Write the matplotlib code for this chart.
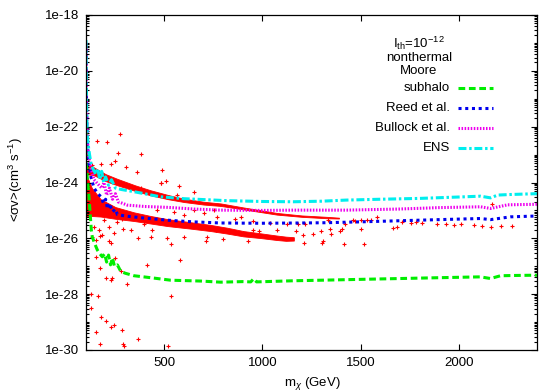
import numpy as np
import matplotlib
matplotlib.use("Agg")
import matplotlib.pyplot as plt
from matplotlib.ticker import FixedLocator, LogLocator, NullFormatter

plt.rcParams["font.family"] = ["Liberation Sans", "DejaVu Sans"]
plt.rcParams["mathtext.fontset"] = "custom"
plt.rcParams["mathtext.rm"] = "Liberation Sans"
plt.rcParams["mathtext.it"] = "Liberation Sans:italic"

# curves: mass in GeV, log10 of <sigma v>
sub_x = [100, 101, 103, 106, 110, 115, 121, 127, 132, 145, 158, 170, 183, 195, 205, 215, 225,
         235, 245, 260, 277, 300, 345, 430, 532, 685, 787, 900, 940, 955, 970, 1157, 1300,
         1498, 1700, 1900, 2112, 2163, 2214, 2290, 2400]
sub_log = [-21.8, -22.6, -23.3, -23.8, -24.1, -24.5, -25.1, -25.7, -25.95, -26.2, -26.42, -26.55,
           -26.66, -26.55, -26.85, -26.6, -26.95, -26.7, -27.0, -26.95, -27.18, -27.25, -27.34,
           -27.41, -27.5, -27.53, -27.57, -27.55, -27.56, -27.45, -27.56, -27.52, -27.5, -27.47,
           -27.44, -27.41, -27.38, -27.44, -27.34, -27.33, -27.32]

reed_x = [100, 101, 103, 106, 110, 115, 125, 141, 160, 175, 190, 200, 210, 220, 235, 250, 260,
          300, 391, 515, 646, 787, 988, 1200, 1329, 1498, 1700, 1900, 2112, 2163, 2265, 2400]
reed_log = [-19.2, -20.3, -21.5, -22.4, -22.9, -23.3, -23.8, -24.2, -24.4, -24.5, -24.75, -24.6,
            -24.95, -24.75, -25.05, -24.95, -25.15, -25.2, -25.27, -25.35, -25.41, -25.45, -25.46,
            -25.45, -25.44, -25.41, -25.37, -25.33, -25.29, -25.33, -25.23, -25.2]

bull_x = [100, 101, 103, 106, 110, 120, 130, 141, 160, 180, 192, 205, 220, 235, 250, 265, 277,
          311, 400, 515, 650, 787, 1000, 1157, 1426, 1700, 1900, 2112, 2163, 2250, 2400]
bull_log = [-19.0, -20.0, -21.2, -22.2, -22.9, -23.3, -23.6, -23.9, -24.05, -24.2, -24.0, -24.45,
            -24.2, -24.6, -24.4, -24.7, -24.72, -24.81, -24.86, -24.89, -24.95, -24.99, -25.0,
            -24.99, -24.99, -24.95, -24.9, -24.87, -24.93, -24.8, -24.78]

ens_x = [100, 101, 102, 104, 106, 110, 118, 125, 135, 150, 160, 170, 180, 190, 200, 215, 230,
         250, 280, 345, 478, 600, 818, 1000, 1157, 1300, 1426, 1600, 1800, 2000, 2112, 2163,
         2200, 2265, 2400]
ens_log = [-18.9, -19.8, -20.6, -21.6, -22.2, -22.6, -23.0, -23.3, -23.5, -23.7, -23.5, -23.9,
           -23.6, -24.0, -23.8, -24.1, -23.9, -24.2, -24.25, -24.33, -24.51, -24.58, -24.65,
           -24.68, -24.69, -24.67, -24.63, -24.6, -24.57, -24.52, -24.49, -24.55, -24.45, -24.43,
           -24.4]

# dense red scan bands (edges, log10)
upper_x = [100, 120, 141, 200, 260, 350, 430, 520, 600, 700, 787, 900, 1073, 1200, 1328, 1390]
upper_top = [-23.3, -23.38, -23.46, -23.7, -23.87, -24.1, -24.28, -24.45, -24.58, -24.69,
             -24.75, -24.89, -25.09, -25.18, -25.23, -25.26]
upper_bot = [-23.7, -23.72, -23.74, -23.95, -24.1, -24.3, -24.46, -24.6, -24.7, -24.79,
             -24.84, -24.96, -25.15, -25.23, -25.28, -25.29]

lower_x = [100, 130, 175, 250, 345, 430, 515, 630, 736, 820, 903, 990, 1073, 1120, 1160]
lower_top = [-23.7, -24.2, -24.6, -24.88, -25.07, -25.2, -25.31, -25.42, -25.52, -25.62, -25.74,
             -25.82, -25.9, -25.94, -25.96]
lower_bot = [-25.2, -25.2, -25.22, -25.3, -25.38, -25.47, -25.56, -25.65, -25.74, -25.83, -25.93,
             -25.99, -26.06, -26.09, -26.08]

# scattered scan points (GeV, log10)
pts_x = [171, 153, 217, 226, 367, 532, 714, 153, 248, 171, 204, 234, 226, 277, 308, 410, 578,
         124, 163, 535, 127, 177, 204, 229, 241, 282, 153, 367, 171, 290, 295, 520,
         273, 158, 209, 382, 265, 178, 226, 248, 306, 362, 489, 481, 510, 260, 289, 576, 131,
         800, 928, 903, 950, 984, 1171, 1209, 1214, 1260, 1299, 1311, 1303, 1348, 1345, 1396,
         1503, 1520, 767, 860, 891, 950, 1039, 1073, 1124, 1183, 1217, 1464, 1532, 1334,
         1423, 1407, 1418, 1474, 1500, 1551, 1585, 1666, 1687, 1712, 1755, 1781, 1815, 1891,
         1934, 1976, 2010, 2078, 2120, 2172, 2163, 2214, 2274,
         124, 141, 166, 192, 217, 243, 285, 328, 396, 438, 464, 549, 600, 651, 702, 753, 762,
         379, 481, 566, 651, 110, 132, 183, 430, 515, 600, 719]
pts_log = [-25.91, -26.05, -26.1, -26.17, -26.0, -26.22, -26.08, -26.68, -26.72, -27.06, -27.42,
           -27.42, -27.5, -27.18, -27.65, -26.96, -26.76, -28.0, -28.06, -28.08, -28.49, -28.82,
           -28.97, -29.16, -29.11, -29.29, -29.35, -29.59, -29.79, -29.79, -29.84, -29.86,
           -22.28, -22.52, -22.56, -22.98, -22.94, -23.32, -23.35, -23.23, -23.44, -23.62, -23.56,
           -24.01, -23.94, -25.41, -25.65, -24.13, -23.38,
           -26.03, -26.1, -25.82, -25.71, -25.73, -25.73, -25.89, -26.16, -25.85, -25.74, -26.1,
           -26.16, -25.85, -25.68, -25.73, -25.68, -26.22, -25.25, -25.29, -25.23, -25.38,
           -25.44, -25.71, -25.47, -25.47, -25.49, -25.33, -25.35, -25.33,
           -25.47, -25.68, -26.22, -25.38, -25.35, -25.35, -25.25, -25.62, -25.59, -25.41,
           -25.44, -25.43, -25.44, -25.47, -25.5, -25.53, -25.5, -25.53, -25.56, -24.77, -25.59,
           -25.55, -25.56,
           -25.11, -25.59, -25.71, -25.35, -25.59, -25.82, -25.29, -25.71, -25.47, -25.71,
           -24.99, -25.05, -25.17, -24.99, -25.11, -24.99, -25.71, -24.21, -24.03, -24.45,
           -24.33, -24.51, -25.95, -25.89, -25.97, -26.0, -25.95, -25.95]

labels = ["subhalo", "Reed et al.", "Bullock et al.", "ENS"]
colors = ["#00ee00", "#0000ee", "#ee00ee", "#00eeee"]
dashes = [(2.2, 1.2), (1.0, 1.2), (0.5, 0.5), (2.6, 0.9, 0.8, 0.9)]

fig = plt.figure(figsize=(5.6, 3.91), dpi=100)
ax = fig.add_axes([86 / 560, 41 / 391, 451 / 560, 335 / 391])

red = "#ff0000"
ax.fill_between(upper_x, 10.0 ** np.array(upper_bot), 10.0 ** np.array(upper_top),
                color=red, lw=0.6)
ax.fill_between(lower_x, 10.0 ** np.array(lower_bot), 10.0 ** np.array(lower_top),
                color=red, lw=0.6)
ax.plot(pts_x, 10.0 ** np.array(pts_log), "+", color=red, ms=3.2, mew=0.8, ls="none")

series = [(sub_x, sub_log), (reed_x, reed_log), (bull_x, bull_log), (ens_x, ens_log)]
for (xs, ys), c, d in zip(series, colors, dashes):
    ax.plot(xs, 10.0 ** np.array(ys), color=c, lw=2.2, dashes=d, dash_capstyle="butt")

ax.set_yscale("log")
ax.set_xlim(100, 2400)
ax.set_ylim(1e-30, 1e-18)
ax.xaxis.set_major_locator(FixedLocator([500, 1000, 1500, 2000]))
ax.yaxis.set_major_locator(FixedLocator([10.0 ** e for e in range(-30, -17, 2)]))
ax.yaxis.set_major_formatter(lambda v, p: "1e%d" % round(np.log10(v)))
ax.yaxis.set_minor_locator(LogLocator(base=10, subs=np.arange(1, 10), numticks=100))
ax.yaxis.set_minor_formatter(NullFormatter())
ax.tick_params(which="both", direction="in", top=True, right=True, labelsize=9.5)
ax.tick_params(which="major", length=4.5, width=0.8, pad=5)
ax.tick_params(which="minor", length=2.2, width=0.8)
for s in ax.spines.values():
    s.set_linewidth(0.9)

fig.text(312 / 560, 1 - 383 / 391, r"m$_{\chi}$ (GeV)", ha="center", va="center", fontsize=9.5)
fig.text(16 / 560, 1 - 180 / 391, "<σv>(cm$^{3}$ s$^{-1}$)", ha="center", va="center",
         rotation=90, fontsize=9.5)

# key
tx = (419 - 86) / 451
for txt, py in [(r"I$_{\mathrm{th}}$=10$^{-12}$", 43), ("nonthermal", 58), ("Moore", 71)]:
    ax.text(tx, (350 - py) / 335, txt, transform=ax.transAxes, ha="center", va="center",
            fontsize=9.5)
for i, (lab, c, d) in enumerate(zip(labels, colors, dashes)):
    yy = (350 - (88 + 20 * i)) / 335
    ax.text((450 - 86) / 451, yy, lab, transform=ax.transAxes, ha="right", va="center",
            fontsize=9.5)
    ax.plot([(458 - 86) / 451, (493 - 86) / 451], [yy, yy], transform=ax.transAxes,
            color=c, lw=2.2, dashes=d, dash_capstyle="butt")

fig.savefig("out.png", dpi=100)
